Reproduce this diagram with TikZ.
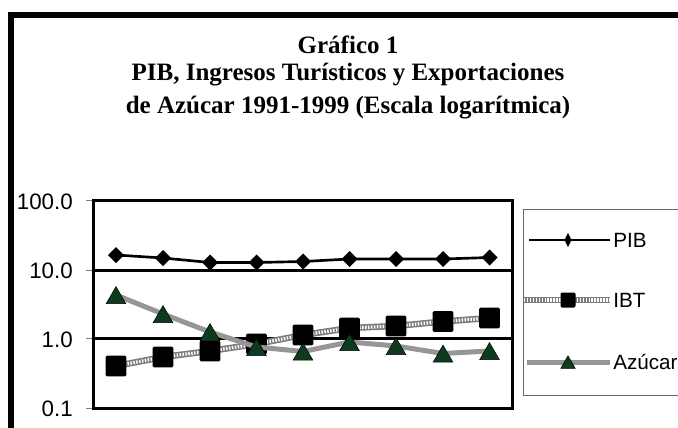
\documentclass[tikz,border=0pt]{standalone}
\usepackage{fontspec}
\setmainfont{Liberation Serif}
\newfontfamily\arialf{Liberation Sans}
\usetikzlibrary{shapes.geometric}
\definecolor{trigreen}{RGB}{14,58,30}
\definecolor{linegray}{RGB}{150,150,150}
\definecolor{patgray}{RGB}{125,125,125}
\begin{document}
\begin{tikzpicture}[x=0.75pt,y=-0.75pt,
  ttl/.style={font=\bfseries\fontsize{18.75}{20}\selectfont, anchor=base, inner sep=0},
  ylab/.style={font=\arialf\fontsize{16.75}{18}\selectfont, anchor=base east, inner sep=0},
  leglab/.style={font=\arialf\fontsize{15.5}{18}\selectfont, anchor=base west, inner sep=0},
  pibmark/.style={diamond, fill=black, inner sep=0, outer sep=0, minimum width=12pt, minimum height=12pt},
  ibtmark/.style={rectangle, fill=black, inner sep=0, outer sep=0, minimum size=15.5pt, rounded corners=1pt},
  azumark/.style={regular polygon, regular polygon sides=3, fill=trigreen, draw=black, line width=0.4pt, inner sep=0, outer sep=0, minimum size=17pt, yshift=-2.2pt},
  pibline/.style={line width=2pt, black, line join=round},
  ibtbase/.style={line width=4.8pt, patgray, line join=round},
  ibtdots/.style={line width=2.4pt, white, dash pattern=on 1.1pt off 1.1pt, line join=round},
  azuline/.style={line width=3.75pt, linegray, line join=round},
  frameline/.style={line width=2.25pt, black},
  tickline/.style={line width=0.75pt, gray},
]
\useasboundingbox (0,0) rectangle (678,428);
\clip (0,0) rectangle (678,428);

% outer frame
\draw[line width=4.9pt, line join=miter] (11,440) -- (11,15) -- (690,15);

% title
\node[ttl] (t1) at (348,53.3) {Gráfico 1};
\node[ttl] (t2) at (348,81) {PIB, Ingresos Turísticos y Exportaciones};
\node[ttl] (t3) at (348,113.3) {de Azúcar 1991-1999 (Escala logarítmica)};

% axis labels and ticks
\node[ylab] (l100) at (73,209.5) {100.0};
\node[ylab] (l10) at (73,278.5) {10.0};
\node[ylab] (l1) at (73,347) {1.0};
\node[ylab] (l01) at (73,416.5) {0.1};
\foreach \yy in {200,270,338.5,408.5} \draw[tickline] (86,\yy) -- (93,\yy);

% plot frame and gridlines
\draw[frameline] (93,270) -- (512.5,270);
\draw[frameline] (93,338.5) -- (512.5,338.5);
\draw[frameline] (93,200) rectangle (512.5,408.5);

% data coordinates
\foreach \i/\xx/\yy in {1/116/255,2/163/258,3/210/262.5,4/256.5/262.5,5/303/261.5,6/349.5/259,7/396/259,8/443/259,9/489.5/257.5}
  \coordinate (p\i) at (\xx,\yy);
\foreach \i/\xx/\yy in {1/116/366,2/163/357,3/210/351,4/256.5/344,5/303/335,6/349.5/328,7/396/326,8/443/321.5,9/489.5/318}
  \coordinate (b\i) at (\xx,\yy);
\foreach \i/\xx/\yy in {1/116/295,2/163/314,3/210/332,4/256.5/347,5/303/351.5,6/349.5/342,7/396/346,8/443/353.5,9/489.5/351}
  \coordinate (a\i) at (\xx,\yy);

% PIB
\draw[pibline] (p1) -- (p2) -- (p3) -- (p4) -- (p5) -- (p6) -- (p7) -- (p8) -- (p9);
\foreach \i in {1,...,9} \node[pibmark] (pm\i) at (p\i) {};

% IBT
\draw[ibtbase] (b1) -- (b2) -- (b3) -- (b4) -- (b5) -- (b6) -- (b7) -- (b8) -- (b9);
\draw[ibtdots] (b1) -- (b2) -- (b3) -- (b4) -- (b5) -- (b6) -- (b7) -- (b8) -- (b9);
\foreach \i in {1,...,9} \node[ibtmark] (bm\i) at (b\i) {};

% Azucar
\draw[azuline] (a1) -- (a2) -- (a3) -- (a4) -- (a5) -- (a6) -- (a7) -- (a8) -- (a9);
\foreach \i in {1,...,9} \node[azumark] (am\i) at (a\i) {};

% legend
\draw[line width=0.75pt, gray!80!black] (523.5,209) rectangle (700,395);
\coordinate (lp1) at (529,240); \coordinate (lp2) at (610,240);
\coordinate (lb1) at (524,300); \coordinate (lb2) at (610,300);
\coordinate (la1) at (527,362); \coordinate (la2) at (610,362);
\draw[pibline] (lp1) -- (lp2);
\node[diamond, fill=black, inner sep=0, minimum width=5.5pt, minimum height=11pt] (lpm) at (568,240) {};
\draw[ibtbase] (lb1) -- (lb2);
\draw[ibtdots] (lb1) -- (lb2);
\node[ibtmark, minimum size=11.25pt] (lbm) at (568,300) {};
\draw[azuline] (la1) -- (la2);
\node[azumark, minimum size=12.5pt, yshift=0.6pt] (lam) at (568,362) {};
\node[leglab] (tp) at (613,247.5) {PIB};
\node[leglab] (tb) at (613,307.5) {IBT};
\node[leglab] (ta) at (613,369.5) {Azúcar};
\end{tikzpicture}
\end{document}
